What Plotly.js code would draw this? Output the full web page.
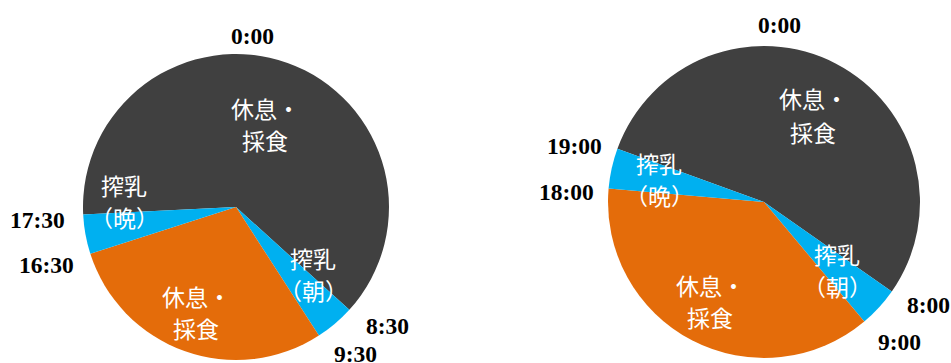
<!DOCTYPE html>
<html>
<head>
<meta charset="utf-8">
<script src="https://cdn.plot.ly/plotly-3.0.1.min.js"></script>
<style>html,body{margin:0;padding:0;background:#fff;}#chart{width:951px;height:363px;}</style>
</head>
<body>
<div id="chart"></div>
<script>
// ---- data ----
// slices listed clockwise, starting at the evening-milking end time
const leftLabels  = ['休息・採食', '搾乳（朝）', '休息・採食', '搾乳（晩）'];
const leftHours   = [15, 1, 7, 1];          // 17:30→8:30, 8:30→9:30, 9:30→16:30, 16:30→17:30
const leftStart   = 17.5;                   // hour where first slice starts
const leftTicks   = ['0:00', '8:30', '9:30', '16:30', '17:30'];

const rightLabels = ['休息・採食', '搾乳（朝）', '休息・採食', '搾乳（晩）'];
const rightHours  = [13, 1, 9, 1];          // 19:00→8:00, 8:00→9:00, 9:00→18:00, 18:00→19:00
const rightStart  = 19;
const rightTicks  = ['0:00', '8:00', '9:00', '18:00', '19:00'];

const sliceColors = ['#404040', '#00B0F0', '#E46C0A', '#00B0F0'];
const sliceLines  = [['休息・', '採食'], ['搾乳', '（朝）'], ['休息・', '採食'], ['搾乳', '（晩）']];

// ---- layout helpers ----
const W = 951, H = 363;
function dom(cx, cy, r) {
  return {x: [(cx - r) / W, (cx + r) / W], y: [(H - cy - r) / H, (H - cy + r) / H]};
}
const px = (x) => x / W, py = (y) => 1 - y / H;
const offset = 4.7; // clock face in reference is turned slightly clockwise

const traces = [
  {type: 'pie', labels: leftLabels.map((l, i) => l + i), values: leftHours, sort: false,
   direction: 'clockwise', rotation: leftStart / 24 * 360 + offset - 360,
   marker: {colors: sliceColors, line: {width: 0}}, textinfo: 'none', hoverinfo: 'skip',
   domain: dom(236, 207, 153), showlegend: false},
  {type: 'pie', labels: rightLabels.map((l, i) => l + i), values: rightHours, sort: false,
   direction: 'clockwise', rotation: rightStart / 24 * 360 + 5 - 360,
   marker: {colors: sliceColors, line: {width: 0}}, textinfo: 'none', hoverinfo: 'skip',
   domain: dom(764, 202, 156), showlegend: false}
];

const tickFont = {family: '"Liberation Serif", "Times New Roman", serif', size: 23.5, color: '#000'};
const inFont = {family: '"Noto Sans CJK JP", sans-serif', size: 23, color: '#fff'};
const ann = [];
function tick(text, x, y) {
  ann.push({text: '<b>' + text + '</b>', x: px(x), y: py(y), xref: 'paper', yref: 'paper',
            showarrow: false, font: tickFont, xanchor: 'center', yanchor: 'middle'});
}
function inLabel(lines, x, y1, y2) {
  ann.push({text: lines[0], x: px(x), y: py(y1), xref: 'paper', yref: 'paper', showarrow: false,
            font: inFont, xanchor: 'center', yanchor: 'middle'});
  ann.push({text: lines[1], x: px(x), y: py(y2), xref: 'paper', yref: 'paper', showarrow: false,
            font: inFont, xanchor: 'center', yanchor: 'middle'});
}
// left clock
tick(leftTicks[0], 252, 36);
tick(leftTicks[1], 387, 326);
tick(leftTicks[2], 355, 354);
tick(leftTicks[3], 46, 265);
tick(leftTicks[4], 37, 220);
inLabel(sliceLines[0], 265, 108, 140);
inLabel(sliceLines[1], 313, 258, 290);
inLabel(sliceLines[2], 196, 296, 328);
inLabel(sliceLines[3], 124, 185, 217);
// right clock
tick(rightTicks[0], 779, 25);
tick(rightTicks[1], 928, 305);
tick(rightTicks[2], 899, 342);
tick(rightTicks[3], 566, 192);
tick(rightTicks[4], 574, 146);
inLabel(sliceLines[0], 813, 98, 132);
inLabel(sliceLines[1], 837, 254, 286);
inLabel(sliceLines[2], 710, 285, 317);
inLabel(sliceLines[3], 659, 163, 195);

Plotly.newPlot('chart', traces, {
  width: W, height: H, margin: {l: 0, r: 0, t: 0, b: 0},
  paper_bgcolor: '#fff', showlegend: false, annotations: ann
}, {staticPlot: true});
</script>
</body>
</html>
